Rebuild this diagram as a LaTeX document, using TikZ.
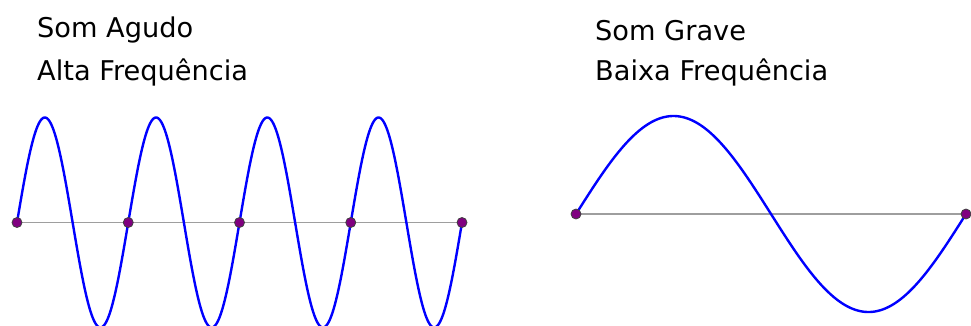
\documentclass[tikz,border=0pt]{standalone}
\usepackage{fontspec}
\setmainfont{DejaVu Sans}
\definecolor{dotpurple}{RGB}{128,0,128}
\begin{document}
\begin{tikzpicture}[x=1pt,y=-1pt,
  wave/.style={draw=blue, line width=2.4pt},
  axisline/.style={draw=black!38, line width=1.2pt},
  dot/.style={circle, fill=dotpurple, draw=black!75, line width=0.8pt, inner sep=0pt, minimum size=10pt},
  label/.style={anchor=base west, inner sep=0pt, font=\fontsize{27.2}{30}\selectfont}]
\useasboundingbox (0,0) rectangle (971,325);
\clip (0,0) rectangle (971,325);
% texts
\node[label] (t1) at (37,37) {Som Agudo};
\node[label] (t2) at (37,80) {Alta Frequência};
\node[label] (t3) at (595,40) {Som Grave};
\node[label] (t4) at (595,80) {Baixa Frequência};
% left axis
\coordinate (l0) at (17,222.5);
\coordinate (l4) at (462,222.5);
\draw[axisline] (l0) -- (l4);
\draw[wave] plot[domain=17:462, samples=500, smooth] (\x, {222.5 - 105*sin((\x-17)/111.25*360)});
\foreach \i/\xx in {0/17,1/128.25,2/239.5,3/350.75,4/462}
  \node[dot] (ld\i) at (\xx,222.5) {};
% right axis
\coordinate (r0) at (576,214);
\coordinate (r1) at (966,214);
\draw[axisline] (r0) -- (r1);
\draw[wave] plot[domain=576:966, samples=300, smooth] (\x, {214 - 98*sin((\x-576)/390*360)});
\node[dot] (rd0) at (r0) {};
\node[dot] (rd1) at (r1) {};
\end{tikzpicture}
\end{document}
